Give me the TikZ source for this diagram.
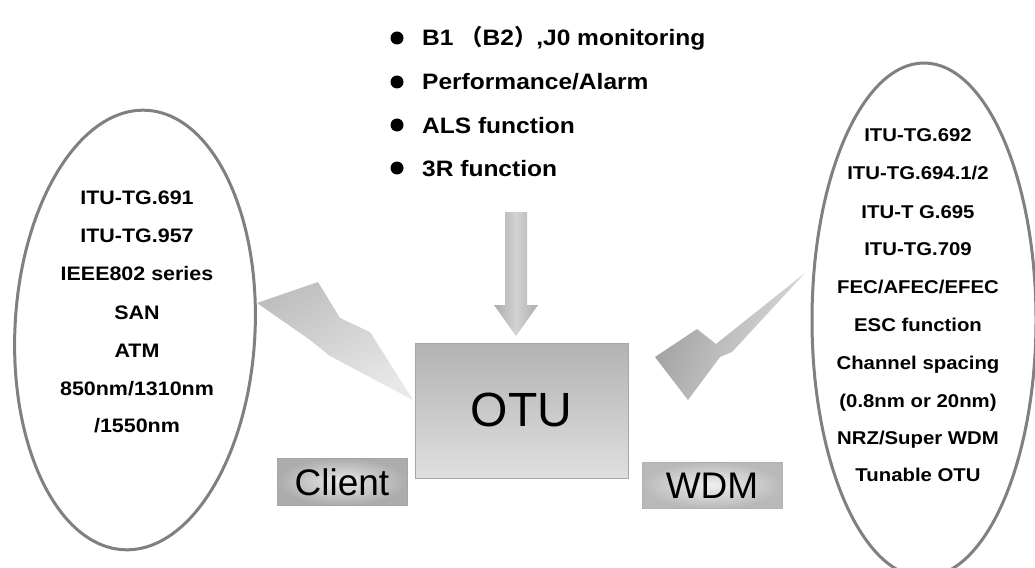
\documentclass[tikz,border=0pt]{standalone}
\usepackage{fontspec}
\setmainfont{Liberation Sans}
\newfontfamily\lab[FakeStretch=1.1]{Liberation Sans}
\newfontfamily\cjk{Noto Sans CJK SC}
\begin{document}
\begin{tikzpicture}[x=1pt,y=-1pt,
  ring/.style={draw=black!50, line width=3pt},
  spec/.style={font=\lab\bfseries\fontsize{19.5}{20}\selectfont, anchor=base, inner sep=0pt},
  specr/.style={font=\lab\bfseries\fontsize{18.5}{19}\selectfont, anchor=base, inner sep=0pt},
  item/.style={font=\lab\bfseries\fontsize{22.3}{23}\selectfont, anchor=base west, inner sep=0pt},
  dot/.style={fill=black},
  tag/.style={font=\fontsize{37}{38}\selectfont, anchor=center, inner sep=0pt},
  bolt/.style={draw=none}
]
\useasboundingbox (0,0) rectangle (1035,567);
\fill[white] (0,0) rectangle (1035,567);

% monitoring functions
\foreach \n/\y/\t in {1/38/{B1 {\cjk （}B2{\cjk ）},J0 monitoring},
                      2/82/{Performance/Alarm},
                      3/125/{ALS function},
                      4/168/{3R function}} {
  \fill[dot] (397,\y) circle (6.5);
  \node[item] (fn\n) at (422,\y+8) {\t};
}

% client side standards
\draw[ring, rotate around={-3:(135,330)}] (135,330) ellipse [x radius=120, y radius=-220];
\foreach \n/\y/\t in {1/197/{ITU-TG.691}, 2/235/{ITU-TG.957}, 3/273/{IEEE802 series},
                      4/312/{SAN}, 5/350/{ATM}, 6/388/{850nm/1310nm}, 7/425/{/1550nm}} {
  \node[spec] (cl\n) at (137,\y+7) {\t};
}

% WDM side standards
\draw[ring] (924,320) ellipse [x radius=112, y radius=-257];
\foreach \n/\y/\t in {1/135/{ITU-TG.692}, 2/173/{ITU-TG.694.1/2}, 3/212/{ITU-T G.695},
                      4/249/{ITU-TG.709}, 5/287/{FEC/AFEC/EFEC}, 6/325/{ESC function},
                      7/363/{Channel spacing}, 8/401/{(0.8nm or 20nm)},
                      9/438/{NRZ/Super WDM}, 10/475/{Tunable OTU}} {
  \node[specr] (wd\n) at (918,\y+6.7) {\t};
}

% downward arrow into the OTU
\shade[left color=gray!65, right color=gray!65, middle color=gray!35]
  (505,212) -- (527,212) -- (527,305) -- (538,305) -- (516,336)
  -- (494,305) -- (505,305) -- cycle;

% client-side lightning bolt
\shade[bolt, top color=gray!50, bottom color=gray!18, shading angle=30]
  (257,303) -- (318,282) -- (340,318) -- (370,332) -- (413,400)
  -- (330,356) -- (310,340) -- cycle;

% WDM-side lightning bolt
\shade[bolt, left color=gray!75, right color=gray!25, shading angle=70]
  (655,357) -- (697,329) -- (716,344) -- (805,273) -- (732,352)
  -- (720,357) -- (688,400) -- cycle;

% OTU block
\shade[top color=gray!60, bottom color=gray!25, draw=gray!70, line width=0.8pt]
  (415,343) rectangle (628,478);
\node[font=\fontsize{48}{50}\selectfont, inner sep=0pt] (otu) at (521.5,410) {OTU};

% Client and WDM labels
\shade[inner color=gray!18, outer color=gray!65, draw=gray!70, line width=0.6pt]
  (277,458) rectangle (407,505);
\node[tag] (client) at (342,482) {Client};
\shade[inner color=gray!12, outer color=gray!55, draw=gray!60, line width=0.6pt]
  (642,462) rectangle (782,508);
\node[tag] (wdm) at (712,486) {WDM};
\end{tikzpicture}
\end{document}
